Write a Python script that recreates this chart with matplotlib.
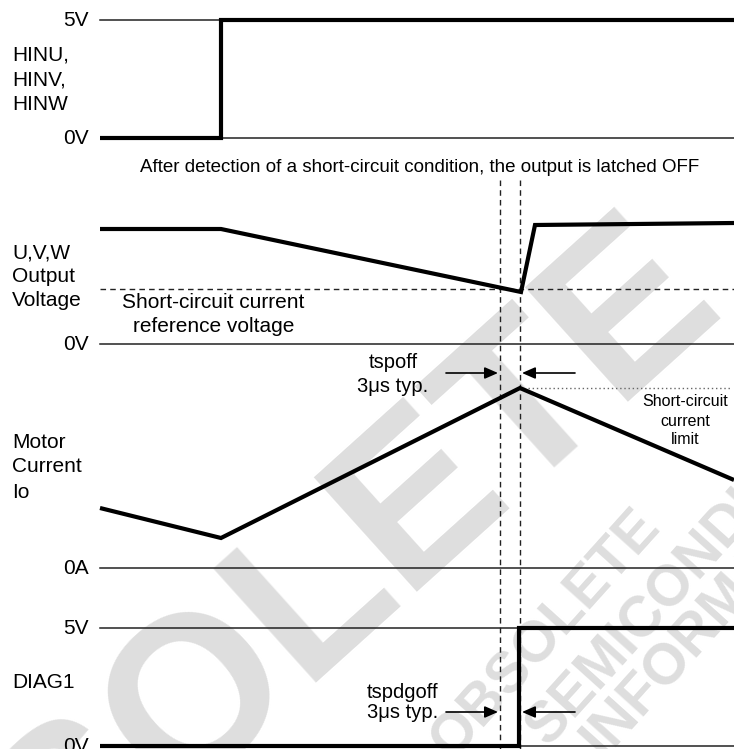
import matplotlib.pyplot as plt

plt.rcParams['font.family'] = ['Liberation Sans', 'DejaVu Sans']

# diagram units: x = time axis position, y = drawing height (top = 0)
# HINU/HINV/HINW input
hin_t = [100, 221, 221, 734]
hin_y = [138, 138, 20, 20]

# U,V,W output voltage
out_t = [100, 221, 521, 535, 734]
out_y = [229, 229, 292, 225, 223]
sc_ref_y = 289          # short-circuit current reference voltage

# motor current Io
io_t = [100, 221, 520, 734]
io_y = [508, 538, 388, 480]
sc_limit_y = 388

# DIAG1 output
diag_t = [100, 519, 519, 734]
diag_y = [746, 746, 628, 628]

# level lines (label, y, x start, x end)
levels = [('5V', 20, 100, 221), ('0V', 138, 221, 734),
          ('0V', 344, 100, 734), ('0A', 568, 100, 734),
          ('5V', 628, 100, 519), ('0V', 746, 519, 734)]

# timing markers
t_detect = 500
t_off = 520

fig = plt.figure(figsize=(7.34, 7.49), dpi=100)
ax = fig.add_axes([0, 0, 1, 1])
ax.set_xlim(0, 734)
ax.set_ylim(749, 0)
ax.axis('off')

# watermark
wm = dict(color='#dedede', fontweight='bold', rotation_mode='anchor',
          ha='left', va='baseline', zorder=0)
ax.text(-182, 1124, 'OBSOLETE', fontsize=160, rotation=42, **wm)
ax.text(452, 761, 'OBSOLETE', fontsize=41, rotation=48, **wm)
ax.text(548, 748, 'SEMICONDUCTOR', fontsize=41, rotation=48, **wm)
ax.text(603, 759, 'INFORMATION', fontsize=41, rotation=48, **wm)

# thin level lines and labels
for lab, y, x0, x1 in levels:
    ax.plot([x0, x1], [y, y], color='#222222', lw=1.1, zorder=2)
    ax.text(89, y, lab, ha='right', va='center', fontsize=15)

# signals
thick = dict(color='black', lw=3.0, solid_joinstyle='miter',
             solid_capstyle='butt', zorder=3)
ax.plot(hin_t, hin_y, **thick)
ax.plot(out_t, out_y, **thick)
ax.plot(io_t, io_y, **thick)
ax.plot(diag_t, diag_y, **thick)

# reference lines
ax.plot([100, 734], [sc_ref_y, sc_ref_y], color='#222222', lw=1.0,
        ls=(0, (4, 3)), zorder=2)
ax.plot([528, 730], [sc_limit_y, sc_limit_y], color='#666666', lw=1.0,
        ls=(0, (1, 2)), zorder=2)
for xv in (t_detect, t_off):
    ax.plot([xv, xv], [180, 749], color='#222222', lw=1.0,
            ls=(0, (4, 3)), zorder=2)

# signal names
names = [('HINU,', 55), ('HINV,', 80), ('HINW', 105),
         ('U,V,W', 253), ('Output', 276), ('Voltage', 300),
         ('Motor', 442), ('Current', 467), ('Io', 492), ('DIAG1', 682)]
for s, y in names:
    ax.text(12, y, s, va='center', fontsize=15)

# annotations
ax.text(420, 168, 'After detection of a short-circuit condition, the output is latched OFF',
        ha='center', va='center', fontsize=13.5)
ax.text(122, 302, 'Short-circuit current', va='center', fontsize=15)
ax.text(133, 327, 'reference voltage', va='center', fontsize=15)
ax.text(393, 363, 'tspoff', ha='center', va='center', fontsize=14.5)
ax.text(393, 387, '3μs typ.', ha='center', va='center', fontsize=14.5)
ax.text(685, 401, 'Short-circuit', ha='center', va='center', fontsize=11.5)
ax.text(685, 421, 'current', ha='center', va='center', fontsize=11.5)
ax.text(685, 440, 'limit', ha='center', va='center', fontsize=11.5)
ax.text(367, 692, 'tspdgoff', va='center', fontsize=14.5)
ax.text(367, 712, '3μs typ.', va='center', fontsize=14.5)

arrow = dict(arrowstyle='-|>,head_length=0.8,head_width=0.35', color='black',
             lw=1.2, shrinkA=0, shrinkB=0)
for ya in (373, 712):
    ax.annotate('', xy=(t_detect - 2, ya), xytext=(446, ya), arrowprops=arrow)
    ax.annotate('', xy=(t_off + 2, ya), xytext=(575, ya), arrowprops=arrow)

plt.savefig('out.png', dpi=100)
